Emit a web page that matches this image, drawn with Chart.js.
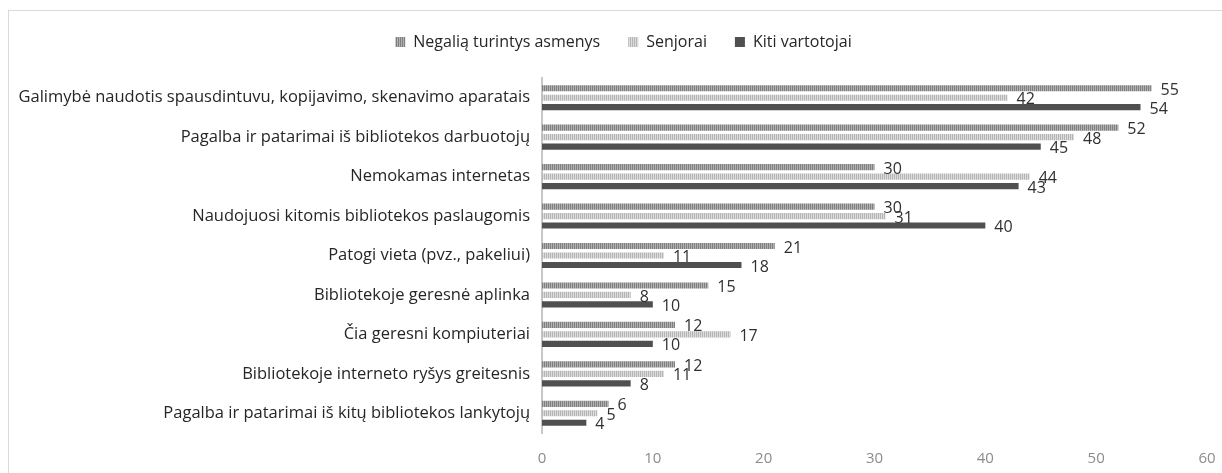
<!DOCTYPE html>
<html>
<head>
<meta charset="utf-8">
<script src="https://cdn.jsdelivr.net/npm/chart.js@4"></script>
<style>
  html, body { margin: 0; padding: 0; background: #fff; overflow: hidden; }
  #frame { position: absolute; left: 8px; top: 10px; width: 1300px; height: 500px; border: 1px solid #d9d9d9; }
  #wrap { position: absolute; left: 0; top: 0; width: 1222px; height: 473px; }
</style>
</head>
<body>
<div id="frame"></div>
<div id="wrap"><canvas id="myChart"></canvas></div>
<script>
var labels = [
    'Galimybė naudotis spausdintuvu, kopijavimo, skenavimo aparatais',
    'Pagalba ir patarimai iš bibliotekos darbuotojų',
    'Nemokamas internetas',
    'Naudojuosi kitomis bibliotekos paslaugomis',
    'Patogi vieta (pvz., pakeliui)',
    'Bibliotekoje geresnė aplinka',
    'Čia geresni kompiuteriai',
    'Bibliotekoje interneto ryšys greitesnis',
    'Pagalba ir patarimai iš kitų bibliotekos lankytojų'
];
var negalia = [55, 52, 30, 30, 21, 15, 12, 12, 6];
var senjorai = [42, 48, 44, 31, 11, 8, 17, 11, 5];
var kiti = [54, 45, 43, 40, 18, 10, 10, 8, 4];
var xTicks = [0, 10, 20, 30, 40, 50, 60];

// vertical stripe pattern like the Excel fill
function stripes(c1, c2) {
    var p = document.createElement('canvas');
    p.width = 2; p.height = 2;
    var g = p.getContext('2d');
    g.fillStyle = c1; g.fillRect(0, 0, 1, 2);
    g.fillStyle = c2; g.fillRect(1, 0, 1, 2);
    return g.createPattern(p, 'repeat');
}
var fill1 = stripes('#7f7f7f', '#b2b2b2');
var fill2 = stripes('#b5b5b5', '#dcdcdc');
var fill3 = '#505050';

var font = "'Open Sans', 'Noto Sans', sans-serif";

var valueLabels = {
    id: 'valueLabels',
    afterDatasetsDraw: function (chart) {
        var c = chart.ctx;
        c.save();
        c.font = '16px ' + font;
        c.fillStyle = '#303030';
        c.textAlign = 'left';
        c.textBaseline = 'middle';
        chart.data.datasets.forEach(function (ds, i) {
            chart.getDatasetMeta(i).data.forEach(function (bar, j) {
                c.fillText(ds.data[j], bar.x + 9, bar.y + 2);
            });
        });
        c.restore();
    }
};

// legend: taller box, and nudged right like the original
var legendTweak = {
    id: 'legendTweak',
    beforeInit: function (chart) {
        var lg = chart.legend;
        var fit = lg.fit;
        lg.fit = function () {
            fit.call(this);
            this.height = 72;
        };
        var draw = lg.draw;
        lg.draw = function () {
            this.ctx.save();
            this.ctx.translate(20, 0);
            draw.apply(this, arguments);
            this.ctx.restore();
        };
    }
};

var ctx = document.getElementById('myChart').getContext('2d');
var myChart = new Chart(ctx, {
    type: 'bar',
    data: {
        labels: labels,
        datasets: [
            { label: 'Negalią turintys asmenys', data: negalia, backgroundColor: fill1 },
            { label: 'Senjorai', data: senjorai, backgroundColor: fill2 },
            { label: 'Kiti vartotojai', data: kiti, backgroundColor: fill3 }
        ]
    },
    options: {
        indexAxis: 'y',
        responsive: true,
        maintainAspectRatio: false,
        animation: false,
        datasets: { bar: { categoryPercentage: 0.72, barPercentage: 0.65 } },
        layout: { padding: { top: 6, right: 15, bottom: 0, left: 0 } },
        plugins: {
            tooltip: { enabled: false },
            legend: {
                position: 'top',
                labels: {
                    boxWidth: 10,
                    boxHeight: 10,
                    padding: 28,
                    color: '#262626',
                    font: { family: font, size: 16 }
                }
            }
        },
        scales: {
            x: {
                min: 0,
                max: 60,
                afterBuildTicks: function (s) { s.ticks = xTicks.map(function (v) { return { value: v }; }); },
                afterFit: function (s) { s.height = 40; s.paddingRight = 0; },
                grid: { display: false, drawTicks: false },
                border: { display: false },
                ticks: { padding: 17, color: '#8c8c8c', font: { family: font, size: 15 } }
            },
            y: {
                afterFit: function (s) { s.width = 542; },
                grid: { display: false, drawTicks: false },
                border: { display: true, color: '#c8c8c8', width: 2 },
                ticks: { padding: 12, color: '#262626', font: { family: font, size: 16.5 } }
            }
        }
    },
    plugins: [valueLabels, legendTweak]
});
</script>
</body>
</html>
